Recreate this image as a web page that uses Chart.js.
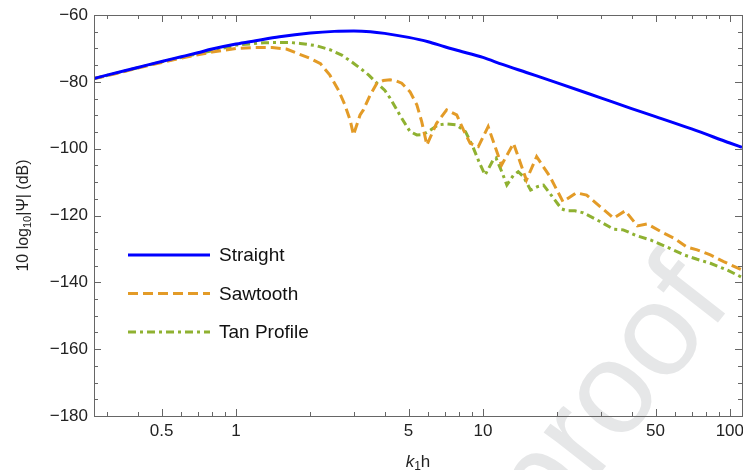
<!DOCTYPE html>
<html>
<head>
<meta charset="utf-8">
<script src="https://cdn.jsdelivr.net/npm/chart.js@4.4.1/dist/chart.umd.min.js"></script>
<style>
  html, body { margin: 0; padding: 0; background: #fff; }
  #wrap { width: 743px; height: 470px; position: relative; }
</style>
</head>
<body>
<div id="wrap"><canvas id="myChart"></canvas></div>
<script>
// values
const xStraight = [0.266, 0.3, 0.4, 0.5, 0.6, 0.7, 0.8, 1, 1.2, 1.5, 2, 2.5, 3, 3.5, 4, 5, 6, 7, 8, 10, 12, 15, 20, 30, 40, 50, 70, 100, 112];
const yStraight = [-79.0, -78.0, -75.7, -73.9, -72.5, -71.3, -70.2, -68.7, -67.7, -66.5, -65.4, -64.9, -64.8, -65.0, -65.5, -66.7, -68.0, -69.5, -70.7, -72.7, -74.8, -77.2, -80.3, -84.8, -88.0, -90.4, -94.1, -98.3, -99.6];

const xSaw = [0.266, 0.3, 0.4, 0.5, 0.6, 0.7, 0.8, 1, 1.2, 1.4, 1.6, 1.76, 2, 2.2, 2.4, 2.6, 2.76, 2.9, 2.99, 3.18, 3.28, 3.49, 3.72, 3.95, 4.21, 4.45, 4.69, 5.07, 5.4, 5.65, 5.93, 6.49, 7.13, 7.83, 8.34, 8.88, 9.58, 10.5, 11.2, 11.9, 13.3, 15.0, 16.5, 18.7, 21.1, 23.9, 26.3, 29.9, 33.8, 37.7, 42.2, 46.3, 52.5, 59.4, 67.2, 73.7, 83.4, 94.4, 112];
const ySaw = [-79.0, -78.2, -75.9, -74.2, -72.9, -71.9, -71.1, -70.0, -69.7, -69.7, -70.2, -71.4, -73.0, -74.6, -78.0, -82.5, -86.9, -91.5, -95.9, -89.9, -88.4, -84.0, -80.4, -79.6, -79.4, -79.7, -80.4, -83.0, -86.9, -91.9, -98.9, -92.4, -88.4, -89.9, -94.4, -98.4, -99.4, -93.4, -99.4, -104.9, -98.4, -109.4, -102.4, -108.4, -115.9, -113.2, -113.9, -117.4, -120.8, -118.6, -123.1, -122.5, -124.8, -126.8, -129.5, -130.3, -131.8, -133.8, -136.3];

const xTan = [0.266, 0.3, 0.4, 0.5, 0.6, 0.7, 0.8, 1, 1.3, 1.65, 1.82, 2.12, 2.4, 2.68, 3.0, 3.18, 3.45, 3.72, 4.0, 4.21, 4.45, 4.69, 5.07, 5.4, 5.7, 6.0, 6.58, 7.1, 7.8, 8.5, 9.1, 9.7, 10.2, 11.0, 11.3, 12.0, 12.5, 13.3, 13.9, 14.6, 15.6, 16.6, 17.6, 19.3, 20.8, 21.9, 23.6, 25.5, 29.8, 33.8, 37.0, 42.1, 47.7, 55.8, 65.3, 73.7, 83.4, 97.4, 112];
const yTan = [-79.0, -78.1, -75.8, -74.0, -72.7, -71.6, -70.7, -69.0, -68.3, -68.2, -68.5, -69.2, -70.4, -72.0, -74.5, -75.9, -78.0, -80.4, -82.5, -84.9, -88.0, -90.9, -94.9, -95.9, -95.8, -94.9, -92.9, -92.6, -92.9, -94.9, -99.4, -104.4, -107.9, -103.4, -102.8, -107.4, -110.9, -107.9, -106.9, -108.4, -112.4, -111.4, -110.9, -114.8, -118.0, -118.6, -118.6, -119.2, -121.8, -124.1, -124.3, -126.1, -127.3, -129.5, -131.8, -133.1, -134.3, -136.3, -138.5];

const seriesNames = ['Straight', 'Sawtooth', 'Tan Profile'];

const xMajor = [0.5, 1, 5, 10, 50, 100];
const xMinor = [0.3, 0.4, 0.6, 0.7, 0.8, 0.9, 2, 3, 4, 6, 7, 8, 9, 20, 30, 40, 60, 70, 80, 90];
const yTickVals = [];
for (let v = -180; v <= -60; v += 5) yTickVals.push(v);

const FONT = "'Liberation Sans', Arial, sans-serif";

function pts(xs, ys) {
  return xs.map((x, i) => ({ x: x, y: ys[i] }));
}

const watermark = {
  id: 'watermark',
  beforeDraw(chart) {
    const c = chart.ctx;
    c.save();
    c.translate(548, 540);
    c.rotate(-52 * Math.PI / 180);
    c.fillStyle = '#e6e7e8';
    c.font = '132px ' + FONT;
    c.textAlign = 'left';
    c.textBaseline = 'alphabetic';
    c.fillText('proof', 0, 0);
    c.restore();
  }
};

const frame = {
  id: 'frame',
  afterDraw(chart) {
    const c = chart.ctx;
    const a = chart.chartArea;
    const xs = chart.scales.x, ys = chart.scales.y;
    c.save();
    c.strokeStyle = '#666';
    c.lineWidth = 1;
    c.setLineDash([]);
    c.strokeRect(a.left + 0.5, a.top + 0.5, a.right - a.left, a.bottom - a.top);
    c.beginPath();
    xs.ticks.forEach(t => {
      const px = Math.round(xs.getPixelForValue(t.value)) + 0.5;
      const len = t.label !== '' ? 7 : 4;
      c.moveTo(px, a.bottom); c.lineTo(px, a.bottom - len);
      c.moveTo(px, a.top); c.lineTo(px, a.top + len);
    });
    ys.ticks.forEach(t => {
      const py = Math.round(ys.getPixelForValue(t.value)) + 0.5;
      const len = t.label !== '' ? 7 : 4;
      c.moveTo(a.left, py); c.lineTo(a.left + len, py);
      c.moveTo(a.right, py); c.lineTo(a.right - len, py);
    });
    c.stroke();

    // axis titles
    c.fillStyle = '#222';
    c.textBaseline = 'alphabetic';
    // x title: k1h
    const big = '17px ' + FONT, small = '12px ' + FONT;
    c.font = 'italic ' + big; const wk = c.measureText('k').width;
    c.font = small; const w1 = c.measureText('1').width;
    c.font = big; const wh = c.measureText('h').width;
    let x0 = (a.left + a.right) / 2 - (wk + w1 + wh) / 2;
    const yb = 467;
    c.textAlign = 'left';
    c.font = 'italic ' + big; c.fillText('k', x0, yb); x0 += wk;
    c.font = small; c.fillText('1', x0, yb + 3); x0 += w1;
    c.font = big; c.fillText('h', x0, yb);

    // y title: 10 log10|Ψ| (dB)
    const f1 = '16px ' + FONT, f2 = '11px ' + FONT;
    const parts = [['10 log', f1, 0], ['10', f2, 3], ['|Ψ| (dB)', f1, 0]];
    let total = 0;
    parts.forEach(p => { c.font = p[1]; p.push(c.measureText(p[0]).width); total += p[3]; });
    c.translate(28, (a.top + a.bottom) / 2);
    c.rotate(-Math.PI / 2);
    let xx = -total / 2;
    parts.forEach(p => { c.font = p[1]; c.fillText(p[0], xx, p[2]); xx += p[3]; });
    c.restore();

    // legend inside the plot
    c.save();
    chart.data.datasets.forEach((ds, i) => {
      const y = 255 + i * 38.5;
      c.strokeStyle = ds.borderColor;
      c.lineWidth = ds.borderWidth;
      c.setLineDash(ds.borderDash || []);
      c.beginPath();
      c.moveTo(128, y); c.lineTo(210, y);
      c.stroke();
      c.setLineDash([]);
      c.fillStyle = '#111';
      c.font = '19px ' + FONT;
      c.textAlign = 'left';
      c.textBaseline = 'middle';
      c.fillText(ds.label, 219, y + 1);
    });
    c.restore();
  }
};

const ctx = document.getElementById('myChart');

new Chart(ctx, {
  type: 'line',
  data: {
    datasets: [{
      label: seriesNames[0],
      data: pts(xStraight, yStraight),
      borderColor: '#0000ff',
      borderWidth: 3,
      cubicInterpolationMode: 'monotone',
      pointRadius: 0
    }, {
      label: seriesNames[1],
      data: pts(xSaw, ySaw),
      borderColor: '#e39b27',
      borderWidth: 3,
      borderDash: [10, 5],
      tension: 0,
      pointRadius: 0
    }, {
      label: seriesNames[2],
      data: pts(xTan, yTan),
      borderColor: '#8fb131',
      borderWidth: 3,
      borderDash: [8, 4, 3, 4],
      tension: 0,
      pointRadius: 0
    }]
  },
  options: {
    responsive: true,
    maintainAspectRatio: false,
    devicePixelRatio: 1,
    animation: false,
    layout: { padding: { top: 15, right: 1, left: 0, bottom: 0 } },
    plugins: {
      legend: { display: false },
      tooltip: { enabled: false }
    },
    scales: {
      x: {
        type: 'logarithmic',
        min: 0.266,
        max: 112,
        grid: { display: false, drawTicks: false },
        border: { display: false },
        afterBuildTicks: (s) => {
          s.ticks = xMajor.concat(xMinor).sort((p, q) => p - q).map(v => ({ value: v }));
        },
        afterFit: (s) => { s.height = 54; s.paddingLeft = 0; s.paddingRight = 0; },
        ticks: {
          autoSkip: false,
          maxRotation: 0,
          padding: 5,
          color: '#222',
          font: { family: FONT, size: 17 },
          callback: (v) => xMajor.includes(v) ? String(v) : ''
        }
      },
      y: {
        min: -180,
        max: -60,
        grid: { display: false, drawTicks: false },
        border: { display: false },
        afterBuildTicks: (s) => {
          s.ticks = yTickVals.map(v => ({ value: v }));
        },
        afterFit: (s) => { s.width = 94; s.paddingTop = 0; s.paddingBottom = 0; },
        ticks: {
          autoSkip: false,
          padding: 6,
          color: '#222',
          font: { family: FONT, size: 17 },
          callback: (v) => v % 20 === 0 ? '\u2212' + Math.abs(v) : ''
        }
      }
    }
  },
  plugins: [watermark, frame]
});
</script>
</body>
</html>
